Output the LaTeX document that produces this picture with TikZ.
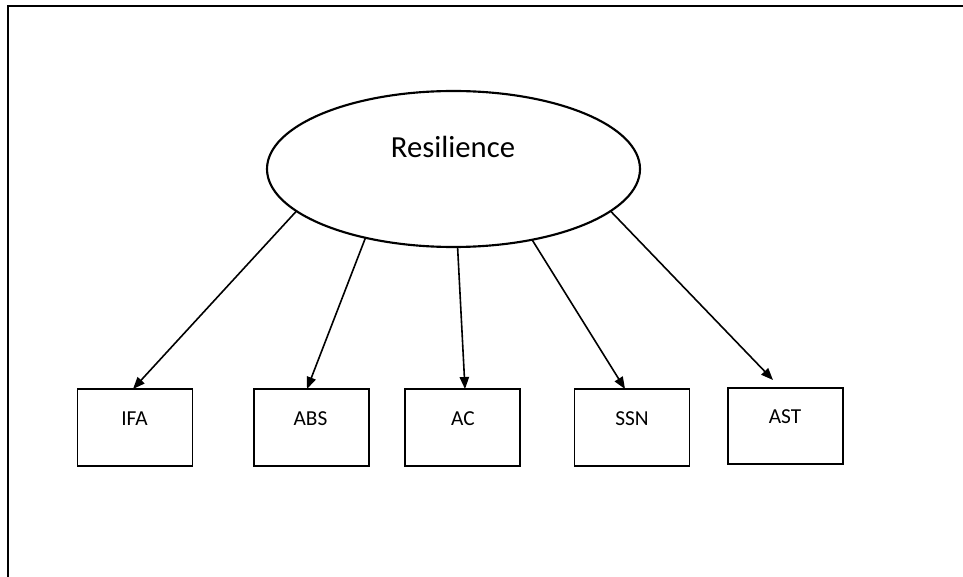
\documentclass[tikz,border=0pt]{standalone}
\usepackage{fontspec}
\setmainfont{Carlito}
\usetikzlibrary{arrows.meta,calc,shapes.geometric}
\begin{document}
\begin{tikzpicture}[x=0.75pt,y=-0.75pt,
  latent/.style={ellipse,draw,line width=1.6pt,minimum width=279.75pt,minimum height=117pt,inner sep=0pt,outer sep=0pt},
  obsbox/.style={rectangle,draw,line width=1.2pt,minimum width=86.5pt,minimum height=57.75pt,inner sep=0pt,outer sep=0pt},
  boxlabel/.style={inner sep=0pt,font=\fontsize{16}{19}\selectfont},
  arr/.style={line width=1.2pt,-{Triangle[length=9pt,width=7pt]}}]
\useasboundingbox (0,0) rectangle (963,577);
% outer frame (only left and top edges visible)
\draw[line width=1.6pt] (8,577) -- (8,6) -- (963,6);
% latent variable
\node[latent] (res) at (453.5,169) {};
\node[inner sep=0pt,font=\fontsize{23}{27}\selectfont] (reslabel) at (453,146.5) {Resilience};
% observed boxes
\node[obsbox] (ifa) at (135,427.5) {};
\node[obsbox] (abs) at (311.5,427.5) {};
\node[obsbox] (ac)  at (462.5,427.5) {};
\node[obsbox] (ssn) at (632,427.5) {};
\node[obsbox,minimum height=57pt] (ast) at (785.5,426) {};
% labels
\node[boxlabel] (ifal) at (134.5,419) {IFA};
\node[boxlabel] (absl) at (310.5,419) {ABS};
\node[boxlabel] (acl)  at (463,419) {AC};
\node[boxlabel] (ssnl) at (632,419) {SSN};
\node[boxlabel] (astl) at (785,417) {AST};
% connectors
\draw[arr] (res.195.5) -- ($(ifa.north)+(-2,0)$);
\draw[arr] (res.218.9) -- ($(abs.north)+(-4.5,0)$);
\draw[arr] (res.273.3) -- ($(ac.north)+(2.5,0)$);
\draw[arr] (res.318.5) -- ($(ssn.north)+(-7,0)$);
\draw[arr] (res.345.3) -- ($(ast.north)+(-12.5,-8)$);
\end{tikzpicture}
\end{document}
